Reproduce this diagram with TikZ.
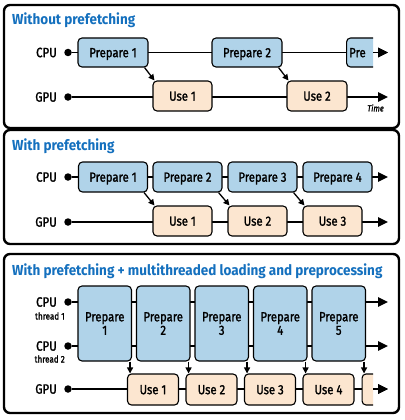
\documentclass[tikz,border=0pt]{standalone}
\usepackage{fontspec}
\setmainfont{Fira Sans}[FakeStretch=0.86,Numbers=Proportional]
\newfontfamily\bodyfont{Fira Sans}[FakeStretch=0.85,FakeBold=1.5,Numbers=Proportional]
\newfontfamily\titlefont{Fira Sans}[FakeStretch=0.93,Numbers=Proportional]
\usetikzlibrary{arrows.meta}
\definecolor{ttl}{RGB}{20,112,190}
\definecolor{pfill}{RGB}{176,211,233}
\definecolor{ufill}{RGB}{252,230,208}
\begin{document}
\begin{tikzpicture}[x=1pt,y=-1pt,
 panel/.style={draw,line width=2.4pt,rounded corners=6pt},
 ttlstyle/.style={anchor=base west,text=ttl,font=\titlefont\fontsize{14.5}{15}\selectfont\bfseries,inner sep=0},
 boxbase/.style={draw,line width=1.1pt,rounded corners=4pt,inner sep=0,font=\bodyfont\fontsize{13.3}{13.5}\selectfont,text height=9.4pt,text depth=0pt},
 pbox/.style={boxbase,fill=pfill},
 ubox/.style={boxbase,fill=ufill},
 tallbox/.style={draw,line width=1.1pt,rounded corners=4pt,inner sep=0,fill=pfill,font=\bodyfont\fontsize{13.3}{13.5}\selectfont,align=center,minimum width=53.5pt,minimum height=75pt},
 lbl/.style={anchor=east,inner sep=0,font=\bodyfont\fontsize{13.5}{13.5}\selectfont},
 sublbl/.style={anchor=east,inner sep=0,font=\bodyfont\fontsize{9.5}{10}\selectfont},
 dot/.style={circle,fill,inner sep=0,minimum size=7.5pt},
 tline/.style={line width=1.5pt,-{Triangle[length=10pt,width=9.5pt]}},
 dep/.style={line width=1.3pt,-{Triangle[length=6pt,width=6pt]}}
]
\useasboundingbox (0,0) rectangle (404,420);
\fill[white] (0,0) rectangle (404,420);

% ---------------- Panel 1
\draw[panel] (4,5) rectangle (399,128);
\node[ttlstyle] (t1) at (12,25) {Without prefetching};
\node[lbl] (cpu1) at (57,52.5) {CPU};
\node[lbl] (gpu1) at (57,97) {GPU};
\node[dot] (dc1) at (68,52.5) {};
\node[dot] (dg1) at (68,97) {};
\coordinate (ec1) at (388,52.5);
\coordinate (eg1) at (388,97);
\draw[tline] (dc1) -- (ec1);
\draw[tline] (dg1) -- (eg1);
\node[pbox,minimum width=70pt,minimum height=29pt] (a1) at (113,52.5) {Prepare 1};
\node[pbox,minimum width=70pt,minimum height=29pt] (a2) at (247,52.5) {Prepare 2};
\begin{scope}
\clip (340,30) rectangle (373,80);
\node[pbox,minimum width=60pt,minimum height=29pt,anchor=west] (a3) at (346,52.5) {};
\node[anchor=west,inner sep=0,font=\bodyfont\fontsize{13.3}{13}\selectfont,text height=9.4pt,text depth=0pt] (a3t) at (349,52.5) {Pre};
\end{scope}
\draw[tline] (373,52.5) -- (ec1);
\node[ubox,minimum width=59pt,minimum height=30pt] (b1) at (182.5,96) {Use 1};
\node[ubox,minimum width=60pt,minimum height=30pt] (b2) at (317,96) {Use 2};
\draw[dep] ([xshift=-4pt]a1.south east) -- ([xshift=2pt]b1.north west);
\draw[dep] ([xshift=-4pt]a2.south east) -- ([xshift=2pt]b2.north west);
\node[anchor=east,inner sep=0,font=\bodyfont\fontsize{9}{9}\selectfont\itshape] (time) at (384,108) {Time};

% ---------------- Panel 2
\draw[panel] (4,130) rectangle (399,244);
\node[ttlstyle] (t2) at (12,150) {With prefetching};
\node[lbl] (cpu2) at (57,177) {CPU};
\node[lbl] (gpu2) at (57,222) {GPU};
\node[dot] (dc2) at (68,177) {};
\node[dot] (dg2) at (68,222) {};
\coordinate (ec2) at (388,177);
\coordinate (eg2) at (388,222);
\draw[tline] (dc2) -- (ec2);
\draw[tline] (dg2) -- (eg2);
\foreach \i/\x in {1/113,2/187.5,3/262.5,4/337.5}
  \node[pbox,minimum width=69pt,minimum height=30pt] (c\i) at (\x,177) {Prepare \i};
\foreach \i/\x in {1/182.5,2/257.5,3/332.5}
  \node[ubox,minimum width=59pt,minimum height=30pt] (d\i) at (\x,221) {Use \i};
\foreach \i in {1,2,3}
  \draw[dep] ([xshift=-4pt]c\i.south east) -- ([xshift=2pt]d\i.north west);

% ---------------- Panel 3
\draw[panel] (4,254) rectangle (399,413);
\node[ttlstyle] (t3) at (12,275) {With prefetching + multithreaded loading and preprocessing};
\node[lbl] (cpu3a) at (57,302) {CPU};
\node[sublbl] (th1) at (65,316) {thread 1};
\node[lbl] (cpu3b) at (57,346) {CPU};
\node[sublbl] (th2) at (65,359) {thread 2};
\node[lbl] (gpu3) at (57,389) {GPU};
\node[dot] (dca) at (68,302) {};
\node[dot] (dcb) at (68,346) {};
\node[dot] (dg3) at (68,389) {};
\coordinate (eca) at (388,302);
\coordinate (ecb) at (388,346);
\coordinate (eg3) at (388,389);
\draw[tline] (dca) -- (eca);
\draw[tline] (dcb) -- (ecb);
\draw[tline] (dg3) -- (eg3);
\foreach \i in {1,...,5}
  \node[tallbox] (e\i) at ({104.75+58.5*(\i-1)},323.5) {Prepare\\\i};
\foreach \i in {1,...,4}
  \node[ubox,minimum width=51pt,minimum height=31pt] (f\i) at ({153+58.5*(\i-1)},389.5) {Use \i};
\begin{scope}
\clip (355,370) rectangle (373,410);
\node[ubox,minimum width=51pt,minimum height=31pt,anchor=west] (f5) at (361.5,389.5) {};
\end{scope}
\draw[tline] (373,389) -- (eg3);
\foreach \i in {1,...,4}
  \draw[dep] ([xshift=-2pt]e\i.south east) -- ([xshift=-2pt]e\i.south east |- f\i.north);
\draw[dep] ([xshift=-2pt]e5.south east) -- ([xshift=-2pt]e5.south east |- f5.north);
\end{tikzpicture}
\end{document}
